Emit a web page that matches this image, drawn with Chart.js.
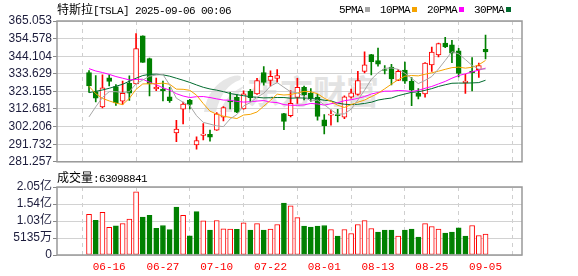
<!DOCTYPE html>
<html>
<head>
<meta charset="utf-8">
<script src="https://cdn.jsdelivr.net/npm/chart.js@4.4.1/dist/chart.umd.min.js"></script>
<style>
    body { margin: 0; background: #fff; width: 578px; height: 276px; overflow: hidden; position: relative; }
    .txt { position: absolute; white-space: nowrap; font-size: 12px; line-height: 14px; color: #000; }
    .cjk { font-family: "Noto Sans CJK SC"; font-size: 12px; }
    .lat { font-family: "Liberation Mono"; font-size: 11px; letter-spacing: -0.6px; }
    .sq { display: inline-block; width: 5px; height: 5px; margin: 0 10px 1px 2px; }
    #wm { position: absolute; left: 247px; top: 72px; font-family: "Noto Sans CJK SC"; font-weight: bold; font-size: 33px; line-height: 36px; color: #e3e3e3; }
    #logo { position: absolute; left: 200px; top: 74px; }
    canvas { position: absolute; left: 0; }
</style>
</head>
<body>
<svg id="logo" width="46" height="40" viewBox="0 0 46 40">
    <path d="M4 38 Q8 12 30 3 Q44 -1 40 6 Q22 12 16 38 Z" fill="#e6e6e6"/>
    <path d="M20 38 Q26 20 44 12 Q34 24 32 38 Z" fill="#e6e6e6"/>
</svg>
<div id="wm">东方财富</div>
<canvas id="kChart" width="578" height="170" style="top:0"></canvas>
<canvas id="volChart" width="578" height="116" style="top:160px"></canvas>
<div class="txt" style="left:57px;top:2px"><span class="cjk">特斯拉</span><span class="lat">[TSLA] 2025-09-06 00:06</span></div>
<div class="txt" id="legend" style="left:339px;top:2px"></div>
<div class="txt" style="left:57px;top:170px"><span class="cjk">成交量</span><span class="lat">:63098841</span></div>

<script>
var dates = ["06-11", "06-12", "06-13", "06-16", "06-17", "06-18", "06-20", "06-23", "06-24", "06-25",
    "06-26", "06-27", "06-30", "07-01", "07-02", "07-03", "07-07", "07-08", "07-09", "07-10",
    "07-11", "07-14", "07-15", "07-16", "07-17", "07-18", "07-21", "07-22", "07-23", "07-24",
    "07-25", "07-28", "07-29", "07-30", "07-31", "08-01", "08-04", "08-05", "08-06", "08-07",
    "08-08", "08-11", "08-12", "08-13", "08-14", "08-15", "08-18", "08-19", "08-20", "08-21",
    "08-22", "08-25", "08-26", "08-27", "08-28", "08-29", "09-02", "09-03", "09-04", "09-05"];
var tickDates = ["06-16", "06-27", "07-10", "07-22", "08-01", "08-13", "08-25", "09-05"];

var open = [334.40, 323.08, 313.97, 331.29, 326.09, 317.31, 327.95, 327.54, 356.17, 342.70,
    324.61, 324.51, 319.90, 298.46, 312.63, 317.99, 291.37, 297.00, 297.55, 300.05,
    307.89, 317.73, 319.68, 312.80, 323.15, 321.66, 334.40, 329.74, 330.90, 310.00,
    308.74, 319.50, 325.55, 322.00, 319.61, 306.21, 309.08, 308.95, 307.89, 319.79,
    321.43, 335.00, 345.00, 341.50, 335.76, 337.66, 329.62, 335.79, 329.22, 322.08,
    321.66, 338.90, 344.93, 351.94, 350.91, 347.23, 328.23, 335.20, 336.15, 348.20];
var high = [335.50, 332.56, 332.99, 333.00, 327.26, 329.32, 332.36, 357.54, 356.26, 343.00,
    331.05, 329.34, 325.58, 305.89, 316.83, 318.45, 296.15, 304.05, 300.15, 310.48,
    314.09, 322.60, 321.20, 323.50, 324.34, 330.90, 338.00, 335.41, 336.20, 310.15,
    323.63, 331.00, 326.25, 324.90, 321.37, 309.31, 312.12, 312.45, 320.47, 324.50,
    335.15, 346.64, 345.26, 348.98, 338.50, 339.30, 336.27, 340.55, 331.37, 324.90,
    340.25, 349.53, 351.90, 355.39, 353.55, 348.75, 333.33, 343.30, 340.00, 356.70];
var low = [322.50, 316.86, 313.30, 326.41, 314.74, 315.45, 317.78, 327.48, 340.44, 320.40,
    323.61, 317.50, 316.60, 293.21, 303.82, 312.76, 288.77, 294.35, 293.55, 300.00,
    305.65, 312.67, 310.50, 312.62, 317.06, 321.42, 326.88, 326.20, 328.67, 300.41,
    308.01, 316.00, 318.10, 317.20, 306.10, 297.82, 303.00, 305.00, 306.93, 319.10,
    320.98, 334.15, 332.94, 338.20, 333.50, 327.02, 329.59, 327.85, 314.60, 318.68,
    319.69, 335.03, 343.72, 349.16, 340.26, 331.70, 322.00, 323.50, 331.50, 342.50];
var close = [326.43, 319.11, 325.31, 329.13, 316.35, 322.05, 322.16, 348.68, 340.47, 327.55,
    325.78, 323.63, 317.66, 300.71, 315.65, 315.35, 293.94, 297.81, 295.88, 309.87,
    313.51, 316.90, 310.78, 321.67, 319.41, 329.65, 328.49, 332.11, 332.56, 305.30,
    316.06, 325.59, 321.20, 319.04, 308.27, 302.63, 309.26, 308.72, 319.91, 322.27,
    329.65, 339.03, 340.84, 339.38, 335.58, 330.56, 335.16, 329.31, 323.90, 320.11,
    340.01, 346.60, 351.67, 349.60, 345.98, 333.87, 329.36, 334.09, 338.53, 346.60];
var prevClose = 326.09;

// volume, million shares
var volume = [122.6, 105.1, 128.9, 83.9, 88.3, 95.1, 108.7, 190.7, 114.7, 119.8,
    80.4, 89.1, 76.7, 145.1, 119.5, 58.0, 131.2, 103.2, 75.6, 104.3,
    79.2, 78.0, 77.6, 97.3, 75.0, 95.0, 75.0, 78.0, 92.0, 156.9,
    148.2, 113.0, 87.0, 84.0, 87.0, 89.1, 77.0, 57.0, 77.0, 65.0,
    92.0, 104.0, 80.0, 69.0, 75.0, 75.0, 57.0, 75.0, 78.0, 54.0,
    95.0, 86.0, 78.0, 66.0, 69.0, 82.0, 57.0, 89.0, 59.0, 63.1];

var ma5 = [308.0, 314.0, 319.5, 323.0, 323.0, 322.4, 323.0, 327.7, 329.9, 332.2,
    332.9, 333.2, 327.0, 319.1, 316.7, 314.6, 308.7, 304.7, 303.7, 302.6,
    302.2, 306.8, 309.4, 314.5, 316.5, 319.7, 322.0, 326.3, 328.4, 325.6,
    322.9, 322.3, 320.1, 317.4, 318.0, 315.3, 312.1, 309.6, 309.8, 312.6,
    318.0, 323.9, 330.3, 334.2, 336.9, 337.1, 336.3, 334.0, 330.9, 327.8,
    329.7, 332.0, 336.5, 341.6, 346.8, 345.5, 342.1, 338.6, 336.4, 336.5];
var ma10 = [326.2, 321.8, 319.0, 317.5, 316.2, 315.3, 319.0, 324.4, 327.6, 327.7,
    327.7, 328.1, 327.4, 324.5, 324.4, 323.8, 320.9, 315.9, 311.4, 309.6,
    308.4, 307.7, 307.0, 309.1, 309.5, 310.9, 314.4, 317.8, 321.5, 321.0,
    321.3, 322.2, 323.2, 322.9, 321.8, 319.1, 317.2, 314.9, 313.6, 315.3,
    316.7, 318.0, 320.0, 322.0, 324.7, 327.5, 330.1, 332.2, 332.6, 332.4,
    333.4, 334.2, 335.2, 336.3, 337.3, 337.6, 337.0, 337.5, 339.0, 341.6];
var ma20 = [336.7, 335.3, 334.4, 333.3, 332.0, 331.0, 330.0, 330.3, 330.4, 328.6,
    327.1, 325.3, 323.9, 321.8, 320.4, 319.5, 320.0, 320.1, 319.5, 318.7,
    318.0, 317.9, 317.2, 316.8, 317.0, 317.4, 317.7, 316.8, 316.5, 315.3,
    314.9, 314.9, 315.1, 316.0, 315.7, 315.0, 315.8, 316.4, 317.6, 318.2,
    319.0, 320.1, 321.6, 322.5, 323.3, 323.3, 323.7, 323.5, 323.1, 323.8,
    325.0, 326.1, 327.6, 329.1, 331.0, 332.6, 333.6, 334.8, 335.8, 337.0];
var ma30 = [322.4, 323.2, 324.0, 325.0, 326.2, 327.4, 329.2, 331.0, 332.6, 333.3,
    333.4, 333.0, 332.2, 331.0, 329.8, 328.5, 327.0, 325.6, 324.6, 323.9,
    323.0, 321.9, 321.2, 320.6, 320.0, 319.6, 319.3, 319.4, 319.5, 319.5,
    319.1, 319.3, 319.2, 318.9, 318.6, 317.9, 317.5, 316.2, 315.5, 315.3,
    315.5, 316.0, 316.7, 318.0, 318.7, 319.2, 320.6, 321.6, 322.6, 322.9,
    323.8, 324.8, 326.1, 327.1, 328.0, 328.1, 328.1, 328.2, 328.4, 329.8];

var priceTicks = ["365.053", "354.578", "344.104", "333.629", "323.155", "312.681", "302.206", "291.732", "281.257"];
var volTicks = ["2.05亿", "1.54亿", "1.03亿", "5135万", "0"];
var volTickValues = [205.4, 154.05, 102.7, 51.35, 0];

var maNames = ["5PMA", "10PMA", "20PMA", "30PMA"];
var maColors = ["#a6a6a6", "#f5a300", "#ff00ff", "#006b2e"];

var RED = "#ff0000", GREEN = "#008000";

// legend
var lg = document.getElementById("legend");
maNames.forEach(function (n, k) {
    lg.innerHTML += '<span class="lat">' + n + '</span><span class="sq" style="background:' + maColors[k] + '"></span>';
});

var frame = {
    id: 'frame',
    afterDraw: function (chart) {
        var a = chart.chartArea, ctx = chart.ctx;
        ctx.save();
        ctx.strokeStyle = '#999';
        ctx.lineWidth = 1.5;
        ctx.strokeRect(a.left, a.top, a.right - a.left, a.bottom - a.top);
        ctx.restore();
    }
};

var tickIdx = tickDates.map(function (d) { return dates.indexOf(d); });

function labelFor(values, labels, v) {
    for (var k = 0; k < values.length; k++) {
        if (Math.abs(values[k] - v) < 1e-6) return labels[k];
    }
    return '';
}

function xScale(showLabels) {
    return {
        type: 'linear', min: -0.44, max: 60.1, bounds: 'data',
        afterBuildTicks: function (s) { s.ticks = tickIdx.map(function (v) { return { value: v }; }); },
        afterFit: function (s) { s.height = showLabels ? 21 : 0; },
        grid: { color: '#cfcfcf', drawTicks: false },
        border: { display: false, dash: [4, 4] },
        ticks: {
            display: showLabels, color: RED, padding: 5, maxRotation: 0, autoSkip: false,
            font: { family: 'Liberation Mono', size: 11 },
            callback: function (v) { return dates[v]; }
        }
    };
}

function yScale(min, max, values, labels, fontFamily) {
    return {
        min: min, max: max, bounds: 'data',
        afterBuildTicks: function (s) { s.ticks = values.map(function (v) { return { value: v }; }); },
        afterFit: function (s) { s.width = 57; },
        grid: { color: '#d2d2d2', tickColor: '#888', tickLength: 4 },
        border: { display: false },
        ticks: {
            color: '#1c1c3c', padding: 1, autoSkip: false,
            font: { family: fontFamily, size: 12 },
            callback: function (v) { return labelFor(values, labels, v); }
        }
    };
}

var priceValues = priceTicks.map(function (t) { return parseFloat(t); });
var up = close.map(function (c, i) { return c >= open[i]; });
var volUp = close.map(function (c, i) { return c >= (i ? close[i - 1] : prevClose); });

var maSets = [ma5, ma10, ma20, ma30].map(function (arr, k) {
    return {
        type: 'line', label: maNames[k], order: 0,
        data: arr.map(function (v, i) { return { x: i, y: v }; }),
        borderColor: maColors[k], borderWidth: 1, pointRadius: 0, tension: 0
    };
});

new Chart(document.getElementById('kChart'), {
    type: 'bar',
    data: {
        datasets: [{
            label: 'wick', order: 3, grouped: false, barThickness: 1,
            data: dates.map(function (d, i) { return { x: i, y: [low[i], high[i]] }; }),
            backgroundColor: up.map(function (u) { return u ? RED : GREEN; })
        }, {
            label: 'body', order: 2, grouped: false, barThickness: 5, minBarLength: 1,
            data: dates.map(function (d, i) { return { x: i, y: [open[i], close[i]] }; }),
            backgroundColor: up.map(function (u) { return u ? '#ffffff' : GREEN; }),
            borderColor: up.map(function (u) { return u ? RED : GREEN; }),
            borderWidth: 1, borderSkipped: false
        }].concat(maSets)
    },
    options: {
        responsive: false, animation: false, devicePixelRatio: 1,
        layout: { padding: { left: 0, right: 56, top: 21, bottom: 5 } },
        plugins: { legend: { display: false }, tooltip: { enabled: false } },
        scales: {
            x: xScale(false),
            y: yScale(281.257, 365.053, priceValues, priceTicks, 'Liberation Sans')
        }
    },
    plugins: [frame]
});

new Chart(document.getElementById('volChart'), {
    type: 'bar',
    data: {
        datasets: [{
            label: 'volume', barThickness: 5,
            data: volume.map(function (v, i) { return { x: i, y: v }; }),
            backgroundColor: volUp.map(function (u) { return u ? '#ffffff' : GREEN; }),
            borderColor: volUp.map(function (u) { return u ? RED : GREEN; }),
            borderWidth: 1, borderSkipped: false
        }]
    },
    options: {
        responsive: false, animation: false, devicePixelRatio: 1,
        layout: { padding: { left: 0, right: 56, top: 27, bottom: 0 } },
        plugins: { legend: { display: false }, tooltip: { enabled: false } },
        scales: {
            x: xScale(true),
            y: yScale(0, 205.4, volTickValues, volTicks, "'Liberation Sans', 'Noto Sans CJK SC'")
        }
    },
    plugins: [frame]
});
</script>
</body>
</html>
